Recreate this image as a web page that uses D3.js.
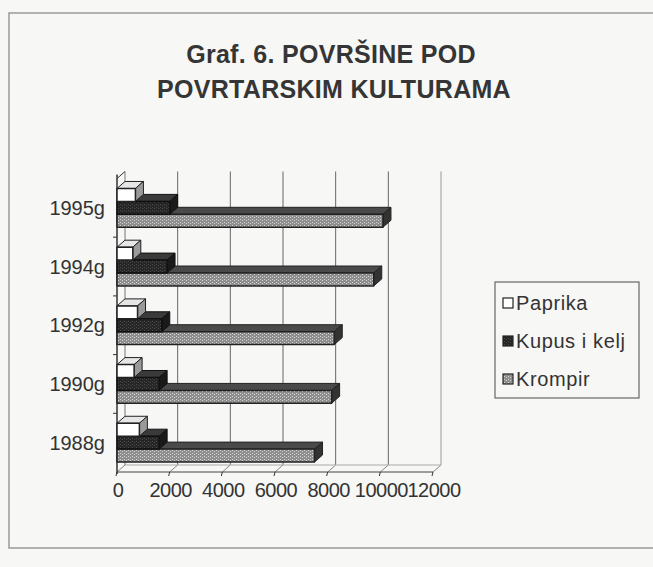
<!DOCTYPE html>
<html>
<head>
<meta charset="utf-8">
<script src="https://cdn.jsdelivr.net/npm/d3@7"></script>
<style>
  body { margin: 0; background: #f7f7f5; }
  svg { display: block; }
</style>
</head>
<body>
<div id="chart"></div>
<script>
// Categories (top to bottom, as drawn)
var years = ["1995g", "1994g", "1992g", "1990g", "1988g"];
var seriesNames = ["Paprika", "Kupus i kelj", "Krompir"];

// Series values, in the same order as years
var paprika = [700, 600, 780, 650, 850];
var kupus = [2000, 1900, 1700, 1600, 1600];
var krompir = [10100, 9750, 8250, 8150, 7500];

var xTicks = [0, 2000, 4000, 6000, 8000, 10000, 12000];

var w = 653;
var h = 567;
var dx = 8, dy = 7;   // depth offset of the 3D look

var svg = d3.select("#chart")
    .append("svg")
    .attr("width", w)
    .attr("height", h);

// Patterns for the scanned fills
var defs = svg.append("defs");
function dotPattern(id, base, dot) {
    var p = defs.append("pattern")
        .attr("id", id)
        .attr("width", 4)
        .attr("height", 3)
        .attr("patternUnits", "userSpaceOnUse");
    p.append("rect").attr("width", 4).attr("height", 3).attr("fill", base);
    p.append("rect").attr("x", 0).attr("y", 0).attr("width", 1).attr("height", 1).attr("fill", dot);
    p.append("rect").attr("x", 2).attr("y", 1).attr("width", 1).attr("height", 1).attr("fill", dot);
}
dotPattern("krompirFront", "#8e8e8e", "#d4d4d4");
dotPattern("kupusFront", "#262626", "#4a4a4a");

var styles = {
    "Paprika":      { front: "#ffffff", top: "#e6e6e6", side: "#9a9a9a", stroke: "#222" },
    "Kupus i kelj": { front: "url(#kupusFront)", top: "#3a3a3a", side: "#1a1a1a", stroke: "#111" },
    "Krompir":      { front: "url(#krompirFront)", top: "#4a4a4a", side: "#333", stroke: "#222" }
};

// Frame of the scanned figure
svg.append("rect")
    .attr("x", 9).attr("y", 13)
    .attr("width", 680).attr("height", 535)
    .attr("fill", "none")
    .attr("stroke", "#9a9a9a")
    .attr("stroke-width", 1.5);

// Title
var title = svg.append("text")
    .attr("text-anchor", "middle")
    .attr("font-family", "Liberation Sans, Arial, sans-serif")
    .attr("font-weight", "bold")
    .attr("font-size", 25)
    .attr("letter-spacing", 0.3)
    .attr("fill", "#353535");
title.append("tspan").attr("x", 331).attr("y", 63).text("Graf. 6. POVRŠINE POD");
title.append("tspan").attr("x", 334).attr("y", 98).text("POVRTARSKIM KULTURAMA");

// Scales
var xScale = d3.scaleLinear()
    .domain([0, 12000])
    .range([117, 433]);

var yScale = d3.scaleBand()
    .domain(years)
    .range([178.5, 472])
    .paddingInner(0.34)
    .paddingOuter(0.17);

var sScale = d3.scaleBand()
    .domain(seriesNames)
    .range([0, yScale.bandwidth()]);

var x0 = xScale(0), x1 = xScale(12000);
var yTop = 178.5, yBot = 472;

var grid = svg.append("g")
    .attr("stroke", "#555")
    .attr("stroke-width", 1)
    .attr("fill", "none");

// Back wall grid lines
grid.selectAll("line.back")
    .data(xTicks.slice(1))
    .enter()
    .append("line")
    .attr("class", "back")
    .attr("x1", function(d) { return xScale(d) + dx; })
    .attr("x2", function(d) { return xScale(d) + dx; })
    .attr("y1", yTop - dy)
    .attr("y2", yBot - dy)
    .attr("stroke", function(d) { return d === 12000 ? "#999" : "#666"; });

// Floor lines from front ticks to back wall
grid.selectAll("line.floor")
    .data(xTicks)
    .enter()
    .append("line")
    .attr("x1", function(d) { return xScale(d); })
    .attr("x2", function(d) { return xScale(d) + dx; })
    .attr("y1", yBot)
    .attr("y2", yBot - dy)
    .attr("stroke", "#888");

grid.append("line")
    .attr("x1", x0).attr("x2", x1).attr("y1", yBot).attr("y2", yBot)
    .attr("stroke", "#444");
grid.append("line")
    .attr("x1", x0 + dx).attr("x2", x1 + dx).attr("y1", yBot - dy).attr("y2", yBot - dy)
    .attr("stroke", "#aaa");

// Front ticks below the floor edge
grid.selectAll("line.tick")
    .data(xTicks)
    .enter()
    .append("line")
    .attr("x1", function(d) { return xScale(d); })
    .attr("x2", function(d) { return xScale(d) - 1; })
    .attr("y1", yBot)
    .attr("y2", yBot + 4)
    .attr("stroke", "#333");

// Left wall
grid.append("line")
    .attr("x1", x0).attr("x2", x0).attr("y1", yTop - 4).attr("y2", yBot + 2)
    .attr("stroke", "#333").attr("stroke-width", 1.5);
grid.append("line")
    .attr("x1", x0 + dx).attr("x2", x0 + dx).attr("y1", yTop - dy).attr("y2", yBot - dy)
    .attr("stroke", "#777");
grid.append("line")
    .attr("x1", x0).attr("x2", x0 + dx).attr("y1", yTop).attr("y2", yTop - dy)
    .attr("stroke", "#333");

// Category boundary ticks on the left wall
var bounds = years.map(function(d) { return yScale(d) - yScale.step() * yScale.paddingInner() / 2; });
grid.selectAll("line.cat")
    .data(bounds.slice(1))
    .enter()
    .append("line")
    .attr("x1", x0 - 4).attr("x2", x0)
    .attr("y1", function(d) { return d; })
    .attr("y2", function(d) { return d; })
    .attr("stroke", "#333");

// Build bar records: bottom category first, Krompir first so upper bars cover top faces
var bars = [];
years.forEach(function(y, i) {
    bars.push({ year: y, name: "Krompir", value: krompir[i] });
    bars.push({ year: y, name: "Kupus i kelj", value: kupus[i] });
    bars.push({ year: y, name: "Paprika", value: paprika[i] });
});
bars.sort(function(a, b) {
    return years.indexOf(b.year) - years.indexOf(a.year) ||
        seriesNames.indexOf(b.name) - seriesNames.indexOf(a.name);
});

var barG = svg.append("g").attr("stroke-linejoin", "round");

var groups = barG.selectAll("g.bar")
    .data(bars)
    .enter()
    .append("g")
    .attr("class", "bar");

function geom(d) {
    var xa = xScale(0);
    var xb = xScale(d.value);
    var ya = yScale(d.year) + sScale(d.name);
    var yb = ya + sScale.bandwidth();
    return { xa: xa, xb: xb, ya: ya, yb: yb };
}

// Top face
groups.append("path")
    .attr("d", function(d) {
        var g = geom(d);
        return "M" + g.xa + "," + g.ya + "L" + g.xb + "," + g.ya +
            "L" + (g.xb + dx) + "," + (g.ya - dy) + "L" + (g.xa + dx) + "," + (g.ya - dy) + "Z";
    })
    .attr("fill", function(d) { return styles[d.name].top; })
    .attr("stroke", function(d) { return styles[d.name].stroke; })
    .attr("stroke-width", 1);

// Right face
groups.append("path")
    .attr("d", function(d) {
        var g = geom(d);
        return "M" + g.xb + "," + g.ya + "L" + (g.xb + dx) + "," + (g.ya - dy) +
            "L" + (g.xb + dx) + "," + (g.yb - dy) + "L" + g.xb + "," + g.yb + "Z";
    })
    .attr("fill", function(d) { return styles[d.name].side; })
    .attr("stroke", function(d) { return styles[d.name].stroke; })
    .attr("stroke-width", 1);

// Front face
groups.append("rect")
    .attr("x", function(d) { return geom(d).xa; })
    .attr("y", function(d) { return geom(d).ya; })
    .attr("width", function(d) { var g = geom(d); return g.xb - g.xa; })
    .attr("height", sScale.bandwidth())
    .attr("fill", function(d) { return styles[d.name].front; })
    .attr("stroke", function(d) { return styles[d.name].stroke; })
    .attr("stroke-width", 1.5);

// Category labels
svg.append("g")
    .selectAll("text")
    .data(years)
    .enter()
    .append("text")
    .attr("x", 105)
    .attr("y", function(d) { return yScale(d) + yScale.bandwidth() / 2; })
    .attr("dy", "0.36em")
    .attr("text-anchor", "end")
    .attr("font-family", "Liberation Sans, Arial, sans-serif")
    .attr("font-size", 20)
    .attr("fill", "#333")
    .text(function(d) { return d; });

// Value axis labels
svg.append("g")
    .selectAll("text")
    .data(xTicks)
    .enter()
    .append("text")
    .attr("x", function(d) { return xScale(d) + 1; })
    .attr("y", 497)
    .attr("text-anchor", "middle")
    .attr("font-family", "Liberation Sans, Arial, sans-serif")
    .attr("font-size", 20)
    .attr("letter-spacing", -0.5)
    .attr("fill", "#333")
    .text(function(d) { return d; });

// Legend
var legend = svg.append("g");
legend.append("rect")
    .attr("x", 495).attr("y", 282)
    .attr("width", 144).attr("height", 116)
    .attr("fill", "none")
    .attr("stroke", "#666")
    .attr("stroke-width", 1.2);

var legendY = d3.scalePoint()
    .domain(seriesNames)
    .range([303, 379]);

var items = legend.selectAll("g.item")
    .data(seriesNames)
    .enter()
    .append("g")
    .attr("transform", function(d) { return "translate(0," + legendY(d) + ")"; });

items.append("rect")
    .attr("x", 503).attr("y", -5)
    .attr("width", 10).attr("height", 10)
    .attr("fill", function(d) { return styles[d].front; })
    .attr("stroke", "#222")
    .attr("stroke-width", 1.2);

items.append("text")
    .attr("x", 516)
    .attr("dy", "0.36em")
    .attr("font-family", "Liberation Sans, Arial, sans-serif")
    .attr("font-size", 20)
    .attr("letter-spacing", 0.6)
    .attr("fill", "#333")
    .text(function(d) { return d; });
</script>
</body>
</html>
